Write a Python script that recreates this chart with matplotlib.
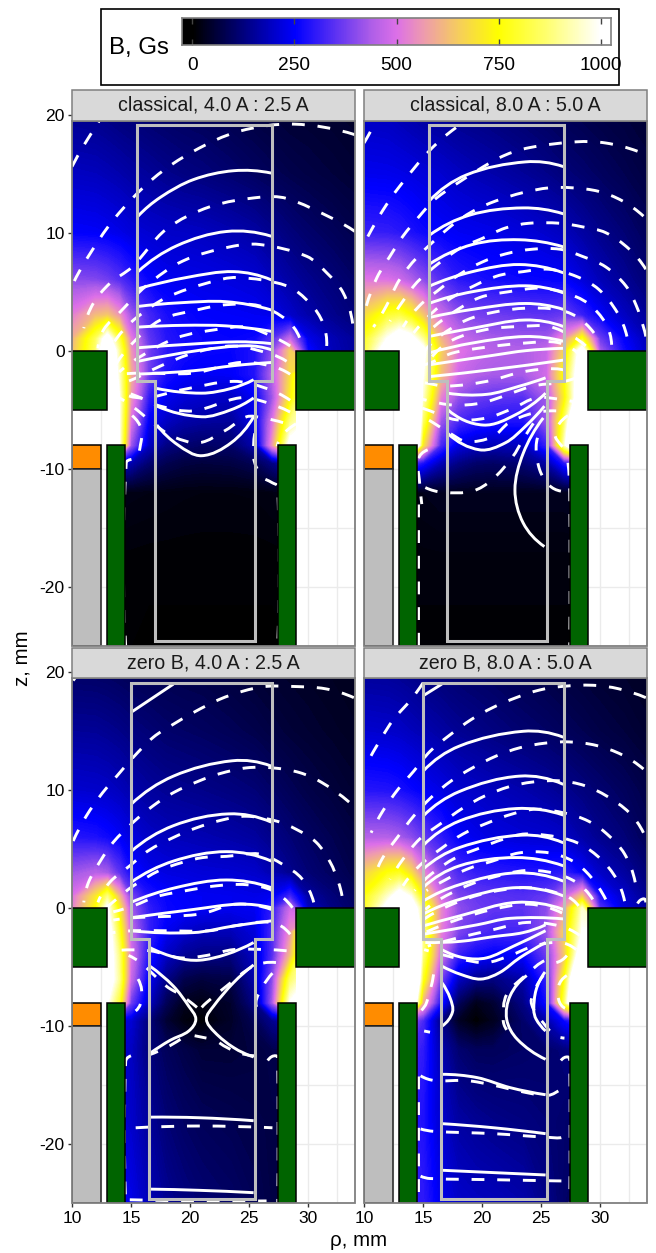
import numpy as np
import matplotlib
matplotlib.use('Agg')
import matplotlib.pyplot as plt
from matplotlib.colors import LinearSegmentedColormap
from matplotlib.patches import PathPatch, Polygon, Rectangle
from matplotlib.path import Path

plt.rcParams['font.family'] = ['Liberation Sans', 'DejaVu Sans']
plt.rcParams['axes.unicode_minus'] = False

W, H = 656, 1253

titles = ['classical, 4.0 A : 2.5 A', 'classical, 8.0 A : 5.0 A',
          'zero B, 4.0 A : 2.5 A', 'zero B, 8.0 A : 5.0 A']
bar_ticks = [0, 250, 500, 750, 1000]

# field grid, values in Gs
rho_grid = [10, 12, 13, 14, 15, 16.5, 18, 19.5, 21, 23.5, 25.5, 27, 28.5, 30, 32, 34]
z_grid = [20, 15, 10, 6, 3, 1, 0, -2, -4, -6, -8, -9.5, -12, -18, -25]

field_1 = [
    [140, 135, 128, 120, 115, 105, 98, 92, 88, 75, 65, 58, 52, 50, 46, 42],
    [190, 185, 178, 170, 160, 150, 138, 128, 122, 108, 95, 85, 75, 68, 60, 52],
    [250, 245, 238, 228, 215, 205, 198, 195, 190, 175, 160, 140, 120, 105, 90, 75],
    [400, 390, 370, 340, 300, 255, 238, 232, 228, 220, 210, 185, 160, 140, 120, 100],
    [520, 620, 640, 560, 420, 325, 275, 260, 250, 245, 240, 228, 198, 168, 140, 118],
    [600, 840, 1080, 820, 520, 355, 290, 270, 260, 255, 262, 340, 470, 232, 178, 148],
    [620, 860, 1220, 900, 560, 375, 295, 270, 260, 255, 282, 400, 650, 262, 182, 152],
    [1000, 1000, 1250, 950, 600, 370, 275, 250, 240, 245, 285, 450, 680, 1000, 1000, 1000],
    [1000, 1000, 1250, 1000, 560, 300, 235, 210, 200, 190, 240, 420, 720, 1000, 1000, 1000],
    [1000, 1000, 1250, 1000, 500, 240, 190, 165, 155, 150, 225, 500, 880, 1000, 1000, 1000],
    [1000, 1000, 1200, 1000, 420, 190, 130, 110, 100, 105, 170, 560, 1050, 1000, 1000, 1000],
    [0, 0, 0, 200, 170, 110, 80, 65, 60, 65, 85, 130, 200, 0, 0, 0],
    [0, 0, 0, 25, 22, 20, 18, 16, 15, 15, 16, 20, 25, 0, 0, 0],
    [0, 0, 0, 7, 7, 6, 6, 6, 6, 6, 6, 6, 7, 0, 0, 0],
    [0, 0, 0, 5, 5, 4, 4, 4, 4, 4, 4, 4, 5, 0, 0, 0],
]
field_2 = [
    [190, 185, 175, 165, 155, 145, 135, 128, 120, 105, 92, 82, 75, 68, 60, 52],
    [235, 232, 228, 222, 215, 205, 190, 178, 168, 150, 135, 120, 108, 95, 80, 65],
    [310, 305, 295, 280, 265, 250, 240, 235, 230, 215, 200, 185, 160, 138, 115, 90],
    [510, 500, 480, 440, 400, 340, 295, 280, 270, 260, 255, 250, 215, 180, 148, 115],
    [680, 800, 820, 750, 640, 480, 405, 380, 370, 355, 350, 365, 310, 250, 192, 148],
    [780, 1000, 1100, 1050, 900, 610, 480, 445, 430, 420, 425, 560, 780, 370, 250, 178],
    [800, 1100, 1250, 1200, 1050, 660, 510, 470, 450, 440, 470, 670, 1100, 430, 270, 188],
    [1500, 1500, 1800, 1600, 1000, 630, 480, 445, 430, 430, 485, 760, 1150, 1000, 1000, 1000],
    [1500, 1500, 1800, 1600, 950, 530, 405, 365, 350, 340, 425, 720, 1200, 1000, 1000, 1000],
    [1500, 1500, 1800, 1600, 850, 420, 325, 295, 280, 280, 420, 850, 1500, 1000, 1000, 1000],
    [1500, 1500, 1600, 1600, 700, 330, 220, 190, 175, 190, 310, 950, 1700, 1000, 1000, 1000],
    [0, 0, 0, 350, 280, 180, 130, 105, 100, 115, 165, 290, 400, 0, 0, 0],
    [0, 0, 0, 20, 25, 30, 30, 30, 30, 30, 30, 30, 35, 0, 0, 0],
    [0, 0, 0, 12, 12, 12, 12, 12, 12, 12, 12, 12, 12, 0, 0, 0],
    [0, 0, 0, 8, 8, 8, 8, 8, 8, 8, 8, 8, 8, 0, 0, 0],
]
field_3 = [
    [100, 98, 95, 90, 85, 80, 76, 72, 70, 60, 52, 46, 42, 38, 34, 30],
    [150, 148, 142, 135, 125, 115, 105, 100, 95, 85, 75, 65, 56, 50, 42, 36],
    [205, 200, 195, 185, 170, 155, 145, 140, 135, 125, 115, 100, 85, 72, 60, 48],
    [290, 280, 265, 245, 220, 195, 185, 180, 175, 165, 155, 135, 115, 98, 80, 64],
    [420, 450, 430, 350, 270, 235, 222, 218, 212, 208, 200, 172, 140, 115, 94, 74],
    [500, 700, 880, 620, 380, 285, 255, 245, 240, 235, 228, 240, 320, 160, 120, 92],
    [520, 750, 1020, 720, 430, 305, 260, 250, 240, 235, 238, 300, 480, 190, 130, 98],
    [1000, 1000, 1100, 800, 470, 310, 235, 200, 180, 180, 215, 330, 550, 1000, 1000, 1000],
    [1000, 1000, 1100, 880, 500, 280, 190, 145, 130, 125, 190, 340, 620, 1000, 1000, 1000],
    [1000, 1000, 1100, 900, 470, 240, 130, 75, 60, 70, 170, 400, 850, 1000, 1000, 1000],
    [1000, 1000, 1000, 800, 370, 190, 85, 30, 20, 45, 130, 430, 1000, 1000, 1000, 1000],
    [0, 0, 0, 220, 210, 120, 50, 15, 3, 40, 85, 140, 200, 0, 0, 0],
    [0, 0, 0, 200, 190, 120, 90, 72, 55, 55, 62, 75, 85, 0, 0, 0],
    [0, 0, 0, 210, 200, 150, 115, 98, 88, 80, 72, 68, 68, 0, 0, 0],
    [0, 0, 0, 240, 230, 180, 145, 125, 112, 100, 85, 68, 62, 0, 0, 0],
]
field_4 = [
    [150, 148, 142, 135, 125, 115, 105, 98, 92, 80, 70, 62, 56, 50, 44, 38],
    [205, 200, 195, 185, 175, 160, 145, 135, 125, 110, 100, 90, 80, 70, 60, 48],
    [290, 285, 275, 260, 245, 225, 205, 195, 185, 170, 155, 140, 125, 110, 92, 72],
    [450, 445, 430, 400, 360, 300, 250, 232, 220, 210, 205, 195, 165, 140, 118, 88],
    [660, 760, 780, 680, 540, 400, 330, 305, 295, 285, 285, 300, 250, 195, 158, 118],
    [760, 950, 1070, 980, 740, 490, 385, 360, 350, 340, 360, 470, 640, 280, 200, 142],
    [780, 1050, 1200, 1100, 880, 540, 405, 370, 355, 350, 400, 580, 950, 340, 215, 152],
    [1500, 1500, 1800, 1450, 900, 530, 385, 340, 320, 325, 415, 670, 1000, 1000, 1000, 1000],
    [1500, 1500, 1800, 1550, 880, 480, 305, 260, 240, 250, 365, 640, 1150, 1000, 1000, 1000],
    [1500, 1500, 1800, 1550, 780, 380, 190, 135, 125, 165, 310, 760, 1450, 1000, 1000, 1000],
    [1500, 1500, 1500, 1300, 600, 280, 90, 25, 50, 130, 270, 850, 1600, 1000, 1000, 1000],
    [0, 0, 0, 420, 330, 130, 35, 2, 30, 105, 170, 260, 360, 0, 0, 0],
    [0, 0, 0, 330, 300, 170, 110, 90, 90, 100, 105, 120, 130, 0, 0, 0],
    [0, 0, 0, 300, 280, 200, 160, 145, 135, 125, 115, 105, 100, 0, 0, 0],
    [0, 0, 0, 300, 300, 230, 200, 190, 185, 170, 135, 100, 85, 0, 0, 0],
]

# outline of the region that holds field values
field_outline = [(10, 22), (34, 22), (34, 0), (29, 0), (29, -8), (27.5, -8), (27.5, -25),
                 (14.5, -25), (14.5, -8), (13, -8), (13, 0), (10, 0)]

# grey cup outlines
cup_top = [(15.5, 19.1), (27, 19.1), (27, -2.6), (25.5, -2.6), (25.5, -24.6),
           (17, -24.6), (17, -2.6), (15.5, -2.6)]
cup_bottom = [(15, 19.1), (27, 19.1), (27, -2.6), (25.5, -2.6), (25.5, -24.6),
              (16.5, -24.6), (16.5, -2.6), (15, -2.6)]

# measured lines (rho, z)
solid_1 = [
    [(15.6, 11.4), (17.5, 13.0), (20.3, 14.5), (23.7, 15.25), (26.9, 15.05)],
    [(15.6, 6.7), (18.9, 8.9), (23.1, 10.1), (26.9, 9.7)],
    [(15.6, 5.25), (19.7, 6.2), (23.7, 6.7), (26.9, 6.0)],
    [(15.6, 3.75), (19.0, 4.05), (23.1, 4.15), (26.9, 3.45)],
    [(15.6, 2.0), (19.5, 2.15), (23.1, 2.1), (26.9, 1.64)],
    [(15.6, 0.25), (20.0, 0.55), (24.0, 0.75), (26.9, 0.6)],
    [(15.6, -0.9), (20.8, 0.03), (24.8, 0.42), (26.9, 0.08)],
    [(15.6, -1.98), (20.3, -1.7), (23.7, -1.27), (26.9, -1.0)],
    [(17.2, -3.2), (21, -3.6), (23.5, -3.2), (25.4, -2.46)],
    [(17.2, -4.7), (21, -5.6), (23.5, -5.0), (25.4, -4.0)],
    [(17.2, -6.3), (19, -8.0), (21, -8.9), (23.5, -7.8), (25.4, -5.6)],
]
dashed_1 = [
    [(10, 15.6), (11, 17.4), (12.2, 19.3), (12.6, 20)],
    [(34, 18.3), (28.8, 19.2), (24.2, 18.6), (20.3, 16.9), (16.9, 14.6), (13.6, 11.2), (11.2, 7.7), (10.1, 5.7)],
    [(34, 10.1), (32.1, 11.2), (28.2, 12.9), (25.9, 13), (21.7, 12.2), (18, 10.3), (15.1, 7.1), (13.2, 5.7), (11.8, 4), (11, 1.9)],
    [(33.8, 2.3), (33, 4.9), (31.6, 6.6), (29.9, 8), (25.9, 9), (23.4, 8.8), (19.4, 7.6), (16.3, 5.5), (14.1, 3.3), (12.7, 1.8), (12.2, 0.2)],
    [(31.6, 0.4), (31.3, 2.3), (30.2, 4), (28.2, 5.5), (24, 6.2), (21.7, 5.8), (18, 4.5), (15.6, 2.9), (14.4, 1.8), (13.2, 0.2)],
    [(29.3, 1.1), (28.2, 2.6), (25.9, 3.8), (23.1, 3.9), (20.8, 3.5), (17.5, 2.6), (15.1, 0.6), (13.5, -1.5)],
    [(28.5, 0.4), (27, 1.2), (24.8, 2), (22.3, 1.8), (18.9, 1.1), (15.8, -0.5), (14, -1.8)],
    [(28.2, -0.9), (26.9, -0.3), (23.7, 0.4), (20.3, -0.2), (17.5, -1.3), (15, -2.5), (13.5, -2.9)],
    [(28.5, -2), (26.9, -1.3), (24.2, -1), (20.3, -1.9), (15.8, -1.9), (13.9, -2)],
    [(28.5, -4.2), (26.5, -3.2), (23.7, -2.6), (19.4, -3.3), (16, -4), (13.8, -3.4)],
    [(28.5, -5.2), (26.2, -4.3), (24.2, -4), (20.3, -5.1), (17.5, -4.7), (15.6, -3.9), (14, -3.3)],
    [(27.9, -6.1), (26.2, -5.7), (24.8, -5.6), (23.1, -6.7), (20.8, -7.8), (18.6, -7.3), (17.2, -6.4), (15.1, -4.7), (14, -4)],
    [(25.5, -7), (25.4, -9), (25.7, -10)],
    [(15.1, -5.5), (15.9, -6.7), (15.8, -8), (15.5, -9), (14.6, -9.5), (14.55, -25)],
    [(26.4, -10.9), (27, -11.2), (27.45, -11.5), (27.45, -25)],
    [(29, -6.2), (27.8, -7.2), (27.4, -8.1)],
]
solid_2 = [
    [(15.5, 12.65), (18.7, 14.9), (23.7, 16), (26.9, 15.6)],
    [(15.5, 9.75), (19, 11.5), (23.5, 12.1), (26.9, 11.6)],
    [(15.5, 7.3), (19.2, 9), (23.2, 9.4), (26.9, 8.8)],
    [(15.5, 5.45), (19.2, 6.7), (23.2, 7.3), (26.9, 6.6)],
    [(15.5, 4.0), (19.2, 5.0), (23.7, 5.5), (26.9, 4.9)],
    [(15.5, 2.8), (19.2, 3.5), (23.7, 4.0), (26.9, 3.5)],
    [(15.5, 1.2), (19.2, 1.9), (23.7, 2.6), (26.9, 2.05)],
    [(15.5, -0.2), (19.2, 0.65), (23.7, 1.2), (26.9, 0.8)],
    [(15.5, -1.2), (20.9, -0.4), (23.7, 0.0), (26.9, 0.2)],
    [(15.5, -2.2), (20.9, -1.6), (26.9, -0.8)],
    [(17.1, -3.6), (20.4, -3.7), (23.2, -3), (25.4, -2.3)],
    [(17.1, -5), (20.1, -6.3), (22.9, -5.4), (25.4, -3.6)],
    [(17.1, -7), (19.8, -8.4), (22, -7.8), (23.7, -6.4), (25.3, -4.7)],
    [(25.3, -16.6), (23.5, -14.6), (22.8, -11.8), (23.5, -8.7), (25.2, -5.7)],
]
dashed_2 = [
    [(10, 17.6), (10.4, 18.3), (11.1, 19.6)],
    [(17.8, 18.9), (15.6, 17), (13, 13.9), (11.6, 11.9), (10.5, 10), (10, 9)],
    [(33.2, 16.9), (30.5, 17.6), (28, 17.7), (24, 17.2), (21.8, 16.5), (19.5, 15.2), (16.1, 12.9), (14.7, 11.4), (13.3, 9.7), (12.2, 8), (11.1, 6.2), (10.2, 3.8)],
    [(33.7, 11.4), (31.9, 12.7), (29.9, 13.5), (27.7, 13.8), (25.7, 13.8), (23.5, 13.4), (21.2, 12.7), (19.2, 11.8), (17.3, 10.5), (14.5, 7.9), (13, 6), (11.9, 3.8), (10.8, 2)],
    [(33.9, 6.9), (32.5, 8.6), (30.5, 10), (28.5, 10.5), (26.6, 10.8), (24, 10.8), (22, 10.4), (20, 9.5), (18, 8.6), (14.7, 6), (13.3, 4.2), (12.2, 2.5)],
    [(33.9, 1.2), (33.7, 2), (33.1, 3.8), (32.2, 5.5), (30.5, 7.1), (28.5, 8), (26.6, 8.6), (24.3, 8.6), (22, 8.2), (20, 7.5), (18, 6.4), (16.4, 5.2), (14.7, 3.8), (13.3, 2)],
    [(32.3, 1.2), (31.5, 3.2), (29.9, 5.2), (28, 6.3), (25.7, 6.9), (23.5, 6.7), (21.2, 6.3), (17.8, 4.7), (16.1, 3.5), (14.2, 1.5)],
    [(31, 0.5), (30.5, 2.3), (29, 4), (27.1, 4.9), (24.9, 5.3), (22.3, 5), (19.8, 4.5), (17.5, 3.2), (15.9, 2)],
    [(29.5, 1.5), (28, 2.9), (26.3, 3.5), (23.7, 3.6), (21.2, 3.3), (18.7, 2.6), (16.4, 1.2), (15, -0.2)],
    [(28.8, 0.4), (27.7, 1.2), (25.7, 2.05), (23.2, 2.05), (20.4, 1.8), (17.5, 0.9), (15.7, -0.6)],
    [(28.5, -0.6), (26.6, 0.65), (23.7, 0.65), (20.4, 0.3), (17.5, -0.2), (15.7, -1), (14, -1.5)],
    [(28.8, -2.7), (26.8, -1.6), (23.7, -1.75), (20.4, -2.6), (17, -3), (15, -2.7), (13.5, -2.6)],
    [(28, -2.3), (26.6, -2.7), (24.3, -3), (20.1, -4.4), (17.5, -4.6), (15.3, -4.2), (14, -3.8)],
    [(28.5, -4.5), (26.8, -4.15), (24.6, -4), (22.6, -4.9), (20.4, -5.7), (17.8, -5.85), (15.6, -5.1), (14.2, -4.6)],
    [(26.3, -5.1), (24.3, -5.3), (22.3, -6.1), (20.9, -7.3), (18.7, -7.7), (17.3, -7), (15, -5.6), (13.8, -5.2)],
    [(27.3, -5.5), (26.2, -7), (26.8, -8.1), (27.5, -8.6)],
    [(15.4, -8.4), (14.6, -9.2), (14.7, -11), (14.9, -13)],
    [(14.55, -13), (14.55, -25)],
    [(15.2, -11.6), (16.7, -12), (19.2, -11.9), (20.9, -10.9), (22.6, -9), (23.5, -7.5), (24.6, -5.8)],
    [(27.3, -9.5), (27.45, -12), (27.45, -25)],
    [(26.7, -11.9), (25.7, -11.4), (24.9, -10.1), (24.6, -8.1), (25, -6.7)],
]
solid_3 = [
    [(15, 16.6), (18.6, 19)],
    [(15, 8.8), (18.6, 11.2), (23.6, 12.5), (26.9, 12.05)],
    [(15, 4.8), (18.6, 7), (23.3, 8), (26.9, 7.3)],
    [(15, 2.2), (18.6, 4), (23.1, 4.8), (26.9, 4)],
    [(15, 0.5), (18.8, 1.75), (23.1, 2.4), (26.9, 1.75)],
    [(15, -0.8), (20.3, -0.1), (24.2, 0.35), (26.9, 0.05)],
    [(15, -1.9), (20.3, -2.06), (23.7, -1.5), (26.9, -1.07)],
    [(16.6, -3.33), (18.9, -4.2), (20.8, -4.4), (23.1, -3.9), (25.4, -2.9)],
    [(16.6, -4.9), (18.6, -6.6), (19.9, -8.3), (20.5, -9.4), (19.9, -10.4), (18.3, -11.2), (16.6, -12.3)],
    [(25.4, -4.8), (23.7, -6.3), (22, -8.3), (21.4, -9.4), (22.1, -10.5), (23.7, -11.8), (25.4, -12.6)],
    [(16.6, -17.7), (20.8, -17.75), (25.4, -18)],
    [(16.6, -23.8), (20.8, -23.9), (25.4, -24.1)],
]
dashed_3 = [
    [(10.1, 19.3), (10.4, 19.7)],
    [(33.9, 17.85), (31.5, 18.6), (28.7, 18.8), (26.4, 18.8), (24.5, 18.4), (22.5, 17.7), (20.5, 16.7), (18.6, 15.6), (16.9, 14.5), (15.2, 12.8), (13.8, 11.2), (12.6, 9.8), (11.2, 7.8), (10.1, 5.7)],
    [(33.5, 9), (31.2, 10.65), (29.3, 11.5), (27, 11.9), (24.8, 11.9), (22.5, 11.4), (20.8, 10.8), (18.6, 9.8), (16.9, 8.7), (15.2, 7.3), (13.5, 5.6), (12.4, 4), (11.4, 2.2), (11, 0.5)],
    [(32.9, 1.05), (32.6, 2.2), (31.9, 3.9), (30.7, 5.6), (29, 6.7), (27.3, 7.4), (24.8, 7.8), (22.8, 7.5), (20.5, 6.8), (18.6, 6), (16.5, 4.9), (14.9, 3.6), (13.2, 2.2), (12.2, 0.5)],
    [(30.5, 0.5), (29.5, 2.5), (27.9, 3.7), (25.9, 4.6), (23.1, 4.4), (21.1, 4.3), (19.4, 3.9), (17.4, 3.2), (15.2, 1.9), (13.8, 0.8), (12.9, 0)],
    [(28.7, 0.05), (27, 1.5), (24.8, 2), (22.2, 1.9), (19.7, 1.5), (17.2, 1), (15.2, 0.2), (13.5, -0.3)],
    [(26.9, -0.1), (23.9, 0.35), (20.8, -0.5), (15.2, -0.8), (13.5, -1)],
    [(28.5, -2.2), (26.9, -1.2), (23.7, -1.5), (21.7, -1.9), (17.5, -1.9), (15.2, -1.9), (13.2, -2.1)],
    [(28.2, -3.6), (26.5, -3.5), (23.7, -3.5), (21.4, -4), (19.2, -4.2), (16.6, -3.6), (13.5, -3.6)],
    [(27.3, -4.6), (25.4, -4.9), (23.1, -6.6), (21.4, -8), (21, -8.4)],
    [(20.6, -8.4), (19.3, -7.4), (18, -6.6), (15.8, -4.6), (14.8, -4)],
    [(27, -5.5), (26.2, -6.6), (25.6, -8), (26.1, -9)],
    [(15.6, -6), (15.9, -6.9), (15.8, -8.1), (15.4, -8.7)],
    [(20.4, -10.8), (21.4, -11)],
    [(19.2, -11.1), (18, -11.8), (16.6, -12.4)],
    [(22.5, -11.4), (24, -12.2), (25.5, -12.5)],
    [(15, -12.5), (14.55, -13), (14.55, -25)],
    [(26.6, -12.9), (27.3, -12.5), (27.45, -13), (27.45, -25)],
    [(15.4, -18.6), (20.8, -18.45), (27, -18.6)],
    [(14.9, -24.7), (20.8, -24.8), (26.5, -24.8)],
]
solid_4 = [
    [(15, 18), (16.6, 19)],
    [(15, 11.6), (18.1, 13.75), (23.5, 15), (26.9, 14.5)],
    [(15, 7.8), (18.1, 9.9), (23.2, 11.2), (26.9, 10.5)],
    [(15, 5.3), (18.1, 7.4), (22.9, 8.45), (26.9, 7.9)],
    [(15, 3.3), (18.1, 5.15), (23.4, 6.2), (26.9, 5.55)],
    [(15, 1.75), (18.1, 3.6), (22.9, 4.3), (26.9, 3.6)],
    [(15, 0.6), (18.1, 2), (22.9, 3), (26.9, 2.3)],
    [(15, -0.5), (18.1, 0.75), (22.9, 1.75), (26.9, 1.05)],
    [(15, -1.5), (18.1, -0.65), (22.9, 0.5), (26.9, -0.1)],
    [(15, -2.2), (19.6, -1.4), (22.4, -0.85), (26.9, -0.9)],
    [(15.2, -2.9), (18.2, -2.8), (21, -2.4), (23.5, -2.06), (25.4, -1.4)],
    [(16.6, -3.5), (18.5, -4.2), (20.4, -4.2), (22.7, -3.2), (25.4, -1.9)],
    [(16.6, -4.9), (18.2, -5.6), (19.9, -6), (21.5, -5.45), (23.2, -4.2), (25.4, -2.9)],
    [(16.6, -6.3), (17.3, -7.6), (17.5, -8.8), (16.6, -10)],
    [(23.8, -5.7), (22.4, -7.4), (22.1, -9.4), (23, -11.1), (25.4, -12.8)],
    [(25.35, -5.4), (24.6, -6.9), (24.4, -8.6), (24.6, -9.4), (25.4, -10.4)],
    [(16.6, -14.07), (19.6, -14.35), (22.4, -15.2), (25.4, -15.8)],
    [(16.6, -18.25), (21, -18.6), (25.4, -19.1)],
    [(16.6, -22.2), (21, -22.4), (25.4, -22.6)],
]
dashed_4 = [
    [(15, 19.1), (14, 17.7), (12.5, 16), (11.4, 14.3), (10.2, 12.2)],
    [(33.9, 17.85), (31.6, 18.6), (29.4, 18.9), (26.8, 18.8), (24.9, 18.5), (22.9, 17.85), (20.9, 17), (19.1, 16), (17.3, 14.7), (15.6, 13.3), (14.2, 11.6), (12.9, 10.1), (11.6, 8.25), (10.6, 6.4)],
    [(33.7, 11.8), (31.9, 13), (29.7, 13.8), (27.4, 14.1), (25.4, 14), (23.2, 13.6), (21.2, 12.9), (19.2, 11.9), (17.4, 10.8), (15.7, 9.4), (14.2, 7.8), (12.9, 6.1), (11.6, 4.3), (10.8, 2.5)],
    [(33.7, 6.4), (32.5, 8.1), (30.6, 9.5), (28.7, 10.4), (26.6, 10.8), (24.3, 10.7), (22.3, 10.3), (20.2, 9.5), (18.4, 8.5), (16.4, 7.1), (14.7, 5.85), (13.3, 4.15), (12.2, 2.45)],
    [(33, 2.2), (32.1, 4.6), (30.6, 6.3), (29, 7.4), (27.1, 8.05), (24.6, 8.4), (22.6, 8), (20.4, 7.2), (18.4, 6.3), (16.6, 5.1), (14.7, 3.6), (13.3, 1.9)],
    [(32.1, 0.6), (31.4, 2.5), (30.1, 4.15), (28.4, 5.4), (26.6, 6), (23.7, 6.3), (21.8, 5.85), (19.8, 5.1), (17.8, 4.3), (15.7, 2.9), (14.3, 1.5)],
    [(30.5, 0.75), (29.2, 2.7), (27.7, 4), (25.7, 4.7), (23.2, 4.7), (20.9, 4), (18.7, 3.3), (16.7, 2.3), (15.3, 1.5)],
    [(29.4, 0.75), (28, 2.2), (26, 3), (23.7, 3.2), (21.2, 2.7), (18.7, 1.9), (16.4, 0.75), (15.2, -0.1)],
    [(28.2, 0.2), (27.1, 1.05), (24, 1.75), (20.4, 1.3), (17.5, 0.35), (15.1, -0.9)],
    [(26.8, -0.4), (24, 0.35), (20.9, -0.1), (18.1, -0.9), (15.3, -2)],
    [(33.9, 0.5), (33.7, 0.8), (33.2, 0.4)],
    [(28.3, -2.3), (26.6, -1.5), (23.8, -1.2), (21, -1.8), (17.6, -2.6), (15.4, -3.2)],
    [(28, -3.5), (26.6, -2.9), (24.4, -3.2), (22.4, -4), (20.4, -4.6), (18.2, -4.3), (15.1, -3.5)],
    [(27.2, -4), (26.3, -4.6), (25.4, -4.4), (23.8, -5.6), (22.1, -7.3), (21.8, -9.4), (22.1, -10.3)],
    [(27.2, -5.7), (26.5, -6.6), (26.6, -8), (27.4, -8.6)],
    [(25.2, -5.7), (24.2, -7.7), (24.4, -8.6), (25.2, -9.7), (26.1, -10.7), (27, -11)],
    [(15.9, -5.6), (15.3, -8), (14.8, -8.7)],
    [(15.1, -10.4), (15.6, -10.5)],
    [(14.8, -14.2), (16, -14.6), (18.7, -14.6), (21, -15), (23.2, -15.5), (25.6, -15.85), (26.8, -15.3), (27.3, -15)],
    [(14.8, -18.7), (15.9, -18.9), (21, -19.1), (25.5, -19.4), (26.9, -19.4), (27.3, -18.9)],
    [(14.8, -22.7), (15.6, -22.9), (21, -23), (26.3, -23.1), (27.2, -23.1)],
    [(14.55, -14.2), (14.55, -25)],
    [(26.7, -12.9), (27.3, -12.6), (27.45, -13), (27.45, -25)],
]

panel_fields = [field_1, field_2, field_3, field_4]
panel_solid = [solid_1, solid_2, solid_3, solid_4]
panel_dashed = [dashed_1, dashed_2, dashed_3, dashed_4]
panel_cups = [cup_top, cup_top, cup_bottom, cup_bottom]

# field colours, black through blue, orchid and yellow to white
cmap = LinearSegmentedColormap.from_list(
    'field', [(0, '#000000'), (0.25, '#0000ff'), (0.44, '#b05fe8'), (0.5, '#dc70e8'),
              (0.565, '#ee9ab0'), (0.65, '#f6cc60'), (0.75, '#ffff00'), (0.87, '#ffff70'), (1, '#ffffff')])


def px_axes(fig, left, top, right, bottom):
    return fig.add_axes([left / W, 1 - bottom / H, (right - left) / W, (bottom - top) / H])


def smooth(pts):
    # bezier path that goes through the read points
    pts = np.array(pts, dtype=float)
    if len(pts) < 3:
        return Path(pts)
    chords = np.diff(pts, axis=0)
    chords /= np.linalg.norm(chords, axis=1, keepdims=True)
    tangents = np.zeros_like(pts)
    tangents[1:-1] = pts[2:] - pts[:-2]
    tangents[1:-1] /= np.linalg.norm(tangents[1:-1], axis=1, keepdims=True)
    tangents[0] = 2 * chords[0] - tangents[1]
    tangents[-1] = 2 * chords[-1] - tangents[-2]
    verts = [pts[0]]
    codes = [Path.MOVETO]
    for a in range(len(pts) - 1):
        seg = np.linalg.norm(pts[a + 1] - pts[a]) / 3
        verts += [pts[a] + tangents[a] * seg, pts[a + 1] - tangents[a + 1] * seg, pts[a + 1]]
        codes += [Path.CURVE4] * 3
    return Path(verts, codes)


def draw_panel(ax, i):
    ax.set_xlim(10, 34)
    ax.set_ylim(-25, 22.1)
    for s in ax.spines.values():
        s.set_visible(False)

    for r in [12.5, 15, 20, 25, 30, 32.5]:
        ax.plot([r, r], [-25, 19.5], color='#ebebeb', lw=1, zorder=1)
    for zz in [-10, -15, -20]:
        ax.plot([10, 34], [zz, zz], color='#ebebeb', lw=1, zorder=1)

    cs = ax.contourf(rho_grid, z_grid, np.array(panel_fields[i]),
                     levels=np.linspace(0, 1000, 201), cmap=cmap, extend='both', zorder=2)
    clip = Polygon(field_outline, closed=True, transform=ax.transData, fc='none', ec='none')
    ax.add_patch(clip)
    cs.set_clip_path(clip)

    for pts in panel_solid[i]:
        ax.add_patch(PathPatch(smooth(pts), fc='none', ec='white', lw=2.1, zorder=3))
    for pts in panel_dashed[i]:
        ax.add_patch(PathPatch(smooth(pts), fc='none', ec='white', lw=2.1, zorder=3,
                               linestyle=(0, (4.4, 4.4))))

    ax.add_patch(Polygon(panel_cups[i], closed=True, fc='none', ec='#bebebe', lw=2.2,
                         joinstyle='miter', zorder=4))

    # magnets, insulator and holder
    for r0, r1, z0, z1 in [(10, 13, -5, 0), (29, 34, -5, 0), (13, 14.5, -25, -8), (27.5, 29, -25, -8)]:
        ax.add_patch(Rectangle((r0, z0), r1 - r0, z1 - z0, fc='#006400', ec='black', lw=1.1, zorder=5))
    ax.add_patch(Rectangle((10, -10), 2.5, 2, fc='#ff8c00', ec='black', lw=1.1, zorder=5))
    ax.add_patch(Rectangle((10, -25), 2.5, 15, fc='#bebebe', ec='#222222', lw=1.1, zorder=5))

    # panel border and title strip
    ax.add_patch(Rectangle((10, -25), 24, 44.5, fc='none', ec='#7f7f7f', lw=1.3, zorder=6, clip_on=False))
    ax.add_patch(Rectangle((10, 19.5), 24, 2.55, fc='#d9d9d9', ec='#7f7f7f', lw=1.1, zorder=6, clip_on=False))
    ax.text(22, 20.8, titles[i], ha='center', va='center', fontsize=14.1, color='#1a1a1a', zorder=7)

    ax.set_xticks([10, 15, 20, 25, 30])
    ax.set_yticks([20, 10, 0, -10, -20])
    ax.tick_params(length=3.2, width=1, color='#333333', labelsize=12.6, labelcolor='black', pad=2,
                   labelleft=i in (0, 2), left=i in (0, 2), labelbottom=i >= 2, bottom=i >= 2)


fig = plt.figure(figsize=(W / 100, H / 100), dpi=100, facecolor='white')

boxes = [(72, 89.9, 355, 645.7), (364, 89.9, 647, 645.7),
         (72, 647.5, 355, 1203.3), (364, 647.5, 647, 1203.3)]
for i, box in enumerate(boxes):
    draw_panel(px_axes(fig, *box), i)

fig.text(359 / W, 1 - 1240 / H, 'ρ, mm', ha='center', va='center', fontsize=14.8)
fig.text(22 / W, 1 - 658 / H, 'z, mm', ha='center', va='center', rotation=90, fontsize=14.8)

# legend box with colour bar
fig.add_artist(Rectangle((101 / W, 1 - 85 / H), 518 / W, 76 / H, transform=fig.transFigure,
                         fc='white', ec='black', lw=1.2, zorder=-1))
fig.text(109 / W, 1 - 48 / H, 'B, Gs', ha='left', va='center', fontsize=17.3)
cax = px_axes(fig, 182, 18, 611, 45)
gradient = np.linspace(-25, 1025, 500)[None, :]
cax.imshow(gradient, extent=(-25, 1025, 0, 1), aspect='auto', cmap=cmap, vmin=0, vmax=1000)
cax.set_yticks([])
cax.set_xticks(bar_ticks)
cax.tick_params(direction='in', top=True, bottom=True, length=4, width=1, color='#444444',
                labelsize=13.8, pad=9)
for s in cax.spines.values():
    s.set_color('#7f7f7f')
    s.set_linewidth(1.2)

fig.savefig('out.png', dpi=100)
